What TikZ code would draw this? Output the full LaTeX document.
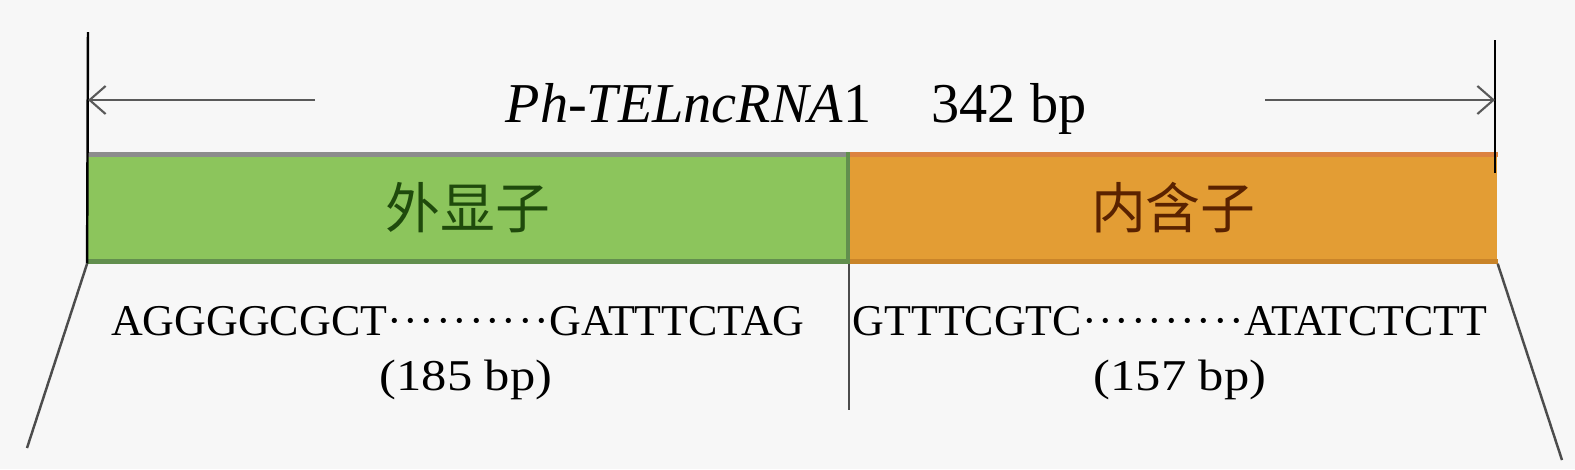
\documentclass[tikz,border=0pt]{standalone}
\usepackage{fontspec}
\setmainfont{Liberation Serif}
\newfontfamily\cjk{Noto Sans CJK SC}
\newfontfamily\dotfont[LetterSpace=4]{Liberation Serif}
\newfontfamily\widefont[FakeStretch=1.15]{Liberation Serif}
\usetikzlibrary{arrows.meta,positioning}
\definecolor{paper}{HTML}{F7F7F7}
\definecolor{leaf}{HTML}{8CC55C}
\definecolor{amber}{HTML}{E39D34}
\definecolor{pine}{HTML}{1F4A0C}
\definecolor{rust}{HTML}{5A2200}
\definecolor{ember}{HTML}{DC8240}
\definecolor{moss}{HTML}{628F4E}
\definecolor{clay}{HTML}{C98429}

\begin{document}
\begin{tikzpicture}[x=0.01cm,y=-0.01cm,
  region/.style={minimum height=1.1cm,inner sep=0pt,font=\cjk\fontsize{15.6}{18}\selectfont},
  exon/.style={region,fill=leaf,text=pine,minimum width=7.6cm},
  intron/.style={region,fill=amber,text=rust,minimum width=6.47cm},
  seq/.style={anchor=base,font=\fontsize{12.5}{15}\selectfont},
  span/.style={-{Straight Barb[length=1.6mm,width=2.8mm]},semithick,black!65},
  rim/.style={line width=1.4pt},
  edge/.style={line width=0.7pt,black!70}]
  \fill[paper] (0,0) rectangle (1575,469);
  \node[exon] (exon) at (468,208) {外显子};
  \node[intron,right=0pt of exon] (intron) {内含子};
  \draw[rim,black!45] ([yshift=-0.7pt]exon.north west) -- ([yshift=-0.7pt]exon.north east);
  \draw[rim,ember] ([yshift=-0.7pt]intron.north west) -- ([yshift=-0.7pt]intron.north east);
  \draw[rim,moss] ([yshift=0.7pt]exon.south west) -- ([yshift=0.7pt]exon.south east);
  \draw[rim,clay] ([yshift=0.7pt]intron.south west) -- ([yshift=0.7pt]intron.south east);
  \draw[moss,line width=1pt] ([xshift=-0.3pt]exon.north east) -- ([xshift=-0.3pt]exon.south east);

  \coordinate (ltop) at (88,32);
  \coordinate (rtop) at (1495,40);
  \coordinate (rbot) at (1495,173);
  \draw[edge,black] (ltop) -- (exon.south west);
  \draw[edge,black] (rtop) -- (rbot);

  \node[anchor=base,font=\fontsize{16}{19}\selectfont] (title) at (796,122)
    {\textit{Ph-TELncRNA}1\hspace{0.6cm}342 bp};
  \coordinate (lstart) at (315,100);
  \coordinate (rstart) at (1265,100);
  \draw[span] (lstart) -- (lstart -| ltop);
  \draw[span] (rstart) -- (rstart -| rtop);

  \coordinate (cut) at (851,410);
  \coordinate (lfoot) at (27,448);
  \coordinate (rfoot) at (1562,460);
  \draw[edge] (exon.south east) -- (exon.south east |- cut);
  \draw[edge] (exon.south west) -- (lfoot);
  \draw[edge] (intron.south east) -- (rfoot);

  \node[seq] (seqL) at (458,335) {AGGGGCGCT{\dotfont··········}GATTTCTAG};
  \node[seq] (lenL) at (466,390) {\widefont (185 bp)};
  \node[seq] (seqR) at (1170,335) {GTTTCGTC{\dotfont··········}ATATCTCTT};
  \node[seq] (lenR) at (1180,390) {\widefont (157 bp)};
\end{tikzpicture}
\end{document}
